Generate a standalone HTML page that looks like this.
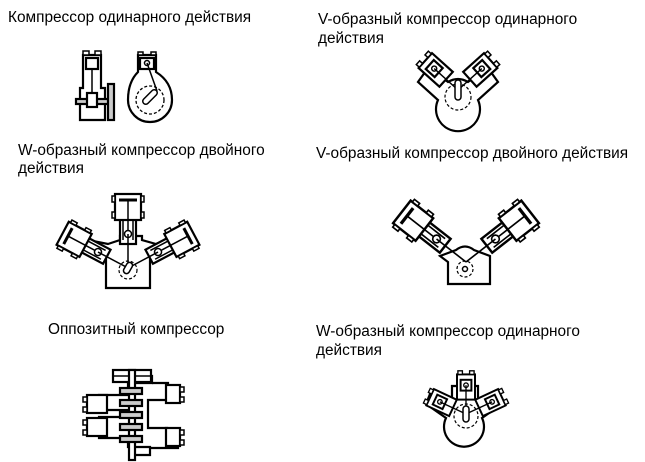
<!DOCTYPE html>
<html><head><meta charset="utf-8"><style>
html,body{margin:0;padding:0;background:#fff;width:645px;height:462px;overflow:hidden}
svg{position:absolute;left:0;top:0}
text{font-family:"Liberation Sans",Arial,sans-serif;font-size:15.4px;fill:#000}
</style></head><body>
<svg width="645" height="462" viewBox="0 0 645 462">
<defs>
<g id="sa" fill="#fff" stroke="#000" stroke-width="2.2">
  <rect x="-10" y="-44" width="20" height="28"/>
  <rect x="-9" y="-48" width="5" height="4" stroke-width="1.5"/>
  <rect x="4" y="-48" width="5" height="4" stroke-width="1.5"/>
  <rect x="-6" y="-38" width="12" height="12"/>
  <circle cx="0" cy="-32" r="2.5" stroke-width="1.5"/>
  <line x1="0" y1="-32" x2="0" y2="0" stroke-width="1.5"/>
</g>
<g id="da" fill="#fff" stroke="#000" stroke-width="2.2">
  <rect x="-8" y="-50" width="16" height="26"/>
  <rect x="-13" y="-74" width="26" height="26"/>
  <rect x="-16" y="-72" width="3" height="6" stroke-width="1.5"/>
  <rect x="13" y="-72" width="3" height="6" stroke-width="1.5"/>
  <rect x="-16" y="-56" width="3" height="6" stroke-width="1.5"/>
  <rect x="13" y="-56" width="3" height="6" stroke-width="1.5"/>
  <line x1="-9" y1="-68" x2="9" y2="-68" stroke-width="3"/>
  <line x1="0" y1="-68" x2="0" y2="-36" stroke-width="1.5"/>
  <line x1="-5" y1="-48" x2="-5" y2="-28" stroke-width="1.5"/>
  <line x1="5" y1="-48" x2="5" y2="-28" stroke-width="1.5"/>
  <circle cx="0" cy="-34" r="3.5" stroke-width="1.5"/>
  <line x1="0" y1="-34" x2="0" y2="0" stroke-width="1.5"/>
</g>
</defs>

<text x="8" y="22">Компрессор одинарного действия</text>
<text x="318" y="24">V-образный компрессор одинарного</text>
<text x="318" y="43">действия</text>
<text x="18" y="155">W-образный компрессор двойного</text>
<text x="18" y="173">действия</text>
<text x="316" y="158">V-образный компрессор двойного  действия</text>
<text x="48" y="334">Оппозитный компрессор</text>
<text x="316" y="336">W-образный компрессор одинарного</text>
<text x="316" y="355">действия</text>

<!-- 1: single acting -->
<g fill="#fff" stroke="#000" stroke-width="2.2">
  <path d="M83,55 H101 V88 H105 V120 H80 V88 H83 Z"/>
  <rect x="83" y="51" width="6" height="4" stroke-width="1.5"/>
  <rect x="95" y="51" width="6" height="4" stroke-width="1.5"/>
  <rect x="86" y="58" width="12" height="11"/>
  <line x1="92" y1="69" x2="92" y2="92" stroke-width="1.5"/>
  <rect x="76" y="99" width="36" height="5" fill="#ccc"/>
  <rect x="87" y="93" width="10" height="14"/>
  <rect x="108" y="84" width="6" height="36" fill="#ccc"/>
  <path d="M138,55 H156 V72 Q172,82 172,100 A22,22 0 1 1 128,100 Q128,82 138,72 Z"/>
  <rect x="138" y="52" width="5" height="3" stroke-width="1.5"/>
  <rect x="151" y="52" width="5" height="3" stroke-width="1.5"/>
  <rect x="140" y="58" width="14" height="11"/>
  <circle cx="147" cy="63" r="2.5" stroke-width="1.5"/>
  <circle cx="150" cy="100" r="14" stroke-dasharray="3,2" stroke-width="1.3"/>
  <line x1="147" y1="63" x2="157" y2="91" stroke-width="1.5"/>
  <rect x="141" y="94" width="18" height="6" rx="3" transform="rotate(-45 150 97)" stroke-width="1.5"/>
</g>

<!-- 2: V single -->
<g transform="translate(0,-10)">
  <path d="M428,78 L448,92 Q458,86 468,92 L488,78 L498,92 L478,110 A22,22 0 1 1 438,110 L418,92 Z" fill="#fff" stroke="#000" stroke-width="2.2"/>
  <use href="#sa" transform="translate(458,100) rotate(-48)"/>
  <use href="#sa" transform="translate(458,100) rotate(48)"/>
  <circle cx="458" cy="107" r="13" fill="none" stroke="#000" stroke-dasharray="3,2" stroke-width="1.2"/>
  <rect x="455" y="90" width="6" height="20" rx="3" fill="#fff" stroke="#000" stroke-width="1.5"/>
</g>

<!-- 3: W double -->
<g>
  <path d="M108,244 L120,240 V236 H142 V240 L156,244 L170,238 L150,258 V288 H106 V258 L88,240 Z" fill="#fff" stroke="#000" stroke-width="2.2"/>
  <use href="#da" transform="translate(128,268)"/>
  <use href="#da" transform="translate(128,268) rotate(-62)"/>
  <use href="#da" transform="translate(128,268) rotate(62)"/>
  <circle cx="128" cy="270" r="9" fill="none" stroke="#000" stroke-dasharray="3,2" stroke-width="1.2"/>
  <rect x="125" y="262" width="6" height="12" rx="3" fill="#fff" stroke="#000" stroke-width="1.5" transform="rotate(30 128 268)"/>
</g>

<!-- 4: V double -->
<g>
  <path d="M440,256 L456,250 Q465,243 474,250 L490,256 V284 H448 V262 Z" fill="#fff" stroke="#000" stroke-width="2.2"/>
  <use href="#da" transform="translate(466,262) rotate(-52) scale(1.1)"/>
  <use href="#da" transform="translate(466,262) rotate(52) scale(1.1)"/>
  <circle cx="465" cy="269" r="8" fill="none" stroke="#000" stroke-dasharray="3,2" stroke-width="1.2"/>
  <circle cx="465" cy="269" r="2.5" fill="#fff" stroke="#000" stroke-width="1.5"/>
</g>

<!-- 5: opposed -->
<g fill="#fff" stroke="#000" stroke-width="2.2">
  <path d="M133,376 H152 V383 H128 V395 H99 V410 H128 V417 H99 V438 H128 V447 H150 V455 H134 V447" fill="none"/>
  <path d="M152,383 H168 V390 H178 V400 H148 V428 H167 V432 H178 V448 H150" fill="none"/>
  <rect x="113" y="370" width="38" height="12"/>
  <line x1="113" y1="376" x2="151" y2="376" stroke-width="1.5"/>
  <rect x="129" y="370" width="6" height="90" fill="#fff"/>
  <rect x="120" y="388" width="22" height="6" fill="#ccc"/>
  <rect x="120" y="400" width="22" height="6" fill="#ccc"/>
  <rect x="120" y="412" width="22" height="6" fill="#ccc"/>
  <rect x="120" y="424" width="22" height="6" fill="#ccc"/>
  <rect x="120" y="436" width="22" height="6" fill="#ccc"/>
  <rect x="87" y="395" width="20" height="18"/>
  <rect x="87" y="418" width="20" height="18"/>
  <rect x="166" y="385" width="14" height="18"/>
  <rect x="166" y="428" width="14" height="18"/>
  <rect x="83" y="397" width="4" height="5" stroke-width="1.5"/>
  <rect x="83" y="407" width="4" height="5" stroke-width="1.5"/>
  <rect x="83" y="420" width="4" height="5" stroke-width="1.5"/>
  <rect x="83" y="430" width="4" height="5" stroke-width="1.5"/>
  <rect x="180" y="387" width="4" height="5" stroke-width="1.5"/>
  <rect x="180" y="397" width="4" height="5" stroke-width="1.5"/>
  <rect x="180" y="430" width="4" height="5" stroke-width="1.5"/>
  <rect x="180" y="440" width="4" height="5" stroke-width="1.5"/>
</g>

<!-- 6: W single -->
<g transform="translate(0,-6)">
  <path d="M430,400 L452,408 V392 H478 V408 L498,400 L502,410 L482,424 A20,20 0 1 1 446,424 L426,410 Z" fill="#fff" stroke="#000" stroke-width="2.2"/>
  <use href="#sa" transform="translate(466,420) scale(0.9)"/>
  <use href="#sa" transform="translate(466,420) rotate(-65) scale(0.9)"/>
  <use href="#sa" transform="translate(466,420) rotate(65) scale(0.9)"/>
  <circle cx="466" cy="422" r="12" fill="none" stroke="#000" stroke-dasharray="3,2" stroke-width="1.2"/>
  <rect x="463" y="412" width="6" height="16" rx="3" fill="#fff" stroke="#000" stroke-width="1.5"/>
</g>
</svg>
</body></html>
